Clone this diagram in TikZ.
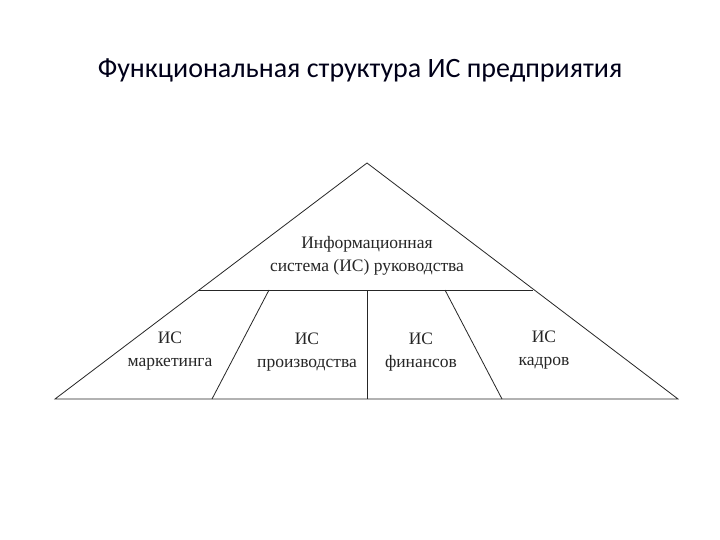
\documentclass[tikz,border=0pt]{standalone}
\usepackage{fontspec}
\setmainfont{Liberation Serif}
\newfontfamily\titlefont{Carlito}
\begin{document}
\begin{tikzpicture}[x=1pt,y=-1pt,
  edge/.style={draw=black!85,line width=0.8pt},
  lbl/.style={font=\fontsize{17.5}{23.5}\selectfont,align=center,inner sep=0pt,text=black!85}]
\useasboundingbox[fill=white] (0,0) rectangle (720,540);
\node[font=\titlefont\fontsize{28}{33}\selectfont,text=black!90!blue] (title) at (360,70) {Функциональная структура ИС предприятия};
\coordinate (apex) at (367,163);
\coordinate (bl) at (55,399);
\coordinate (br) at (678,399);
\coordinate (ml) at (199,290);
\coordinate (mr) at (533,290);
\coordinate (d1t) at (269,290);
\coordinate (d1b) at (212,399);
\coordinate (d2t) at (367,290);
\coordinate (d2b) at (367,399);
\coordinate (d3t) at (445,290);
\coordinate (d3b) at (502,399);
\draw[edge] (bl) -- (apex) -- (br) -- cycle;
\draw[edge] (ml) -- (mr);
\draw[edge] (d1t) -- (d1b);
\draw[edge] (d2t) -- (d2b);
\draw[edge] (d3t) -- (d3b);
\node[lbl] (top) at (367,256) {Информационная\\система (ИС) руководства};
\node[lbl] (mk) at (170,351) {ИС\\маркетинга};
\node[lbl] (pr) at (307,352) {ИС\\производства};
\node[lbl] (fi) at (421,352) {ИС\\финансов};
\node[lbl] (ka) at (544,350) {ИС\\кадров};
\end{tikzpicture}
\end{document}
